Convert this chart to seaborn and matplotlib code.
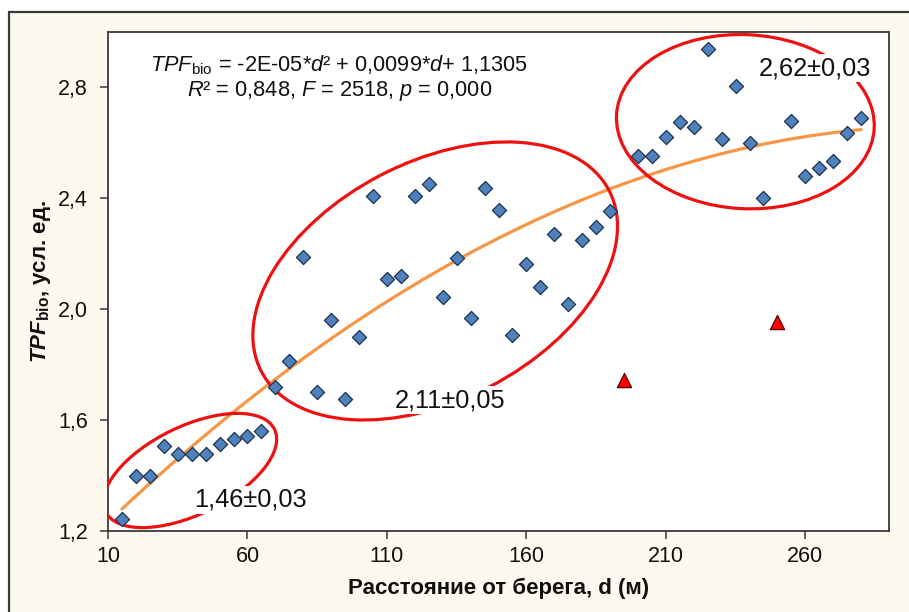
import numpy as np
import pandas as pd
import matplotlib
matplotlib.use("Agg")
import matplotlib.pyplot as plt
from matplotlib.patches import Ellipse, Rectangle
from matplotlib.transforms import ScaledTranslation
import seaborn as sns

# --- data -------------------------------------------------------------
# distance from the shore, m, and TPF_bio for the three shore zones
d_zone1 = [15, 20, 25, 30, 35, 40, 45, 50, 55, 60, 65]
tpf_zone1 = [1.242, 1.398, 1.398, 1.507, 1.479, 1.476, 1.476, 1.512, 1.532, 1.543, 1.561]

d_zone2 = [70, 75, 80, 85, 90, 95, 100, 105, 110, 115, 120, 125, 130,
           135, 140, 145, 150, 155, 160, 165, 170, 175, 180, 185, 190]
tpf_zone2 = [1.718, 1.813, 2.186, 1.701, 1.960, 1.677, 1.899, 2.407, 2.108,
             2.119, 2.407, 2.449, 2.042, 2.185, 1.966, 2.435, 2.357, 1.906,
             2.161, 2.078, 2.270, 2.019, 2.249, 2.297, 2.353]

d_zone3 = [200, 205, 210, 215, 220, 225, 230, 235, 240, 245,
           255, 260, 265, 270, 275, 280]
tpf_zone3 = [2.552, 2.552, 2.621, 2.675, 2.657, 2.936, 2.613, 2.805, 2.599,
             2.399, 2.679, 2.479, 2.507, 2.533, 2.633, 2.687]

# outliers excluded from the regression
d_outliers = [195, 250]
tpf_outliers = [1.743, 1.953]

zone_labels = ["1,46±0,03", "2,11±0,05", "2,62±0,03"]
x_ticks = [10, 60, 110, 160, 210, 260]
y_ticks = [1.2, 1.6, 2.0, 2.4, 2.8]

main = pd.DataFrame({
    "d": d_zone1 + d_zone2 + d_zone3,
    "tpf": tpf_zone1 + tpf_zone2 + tpf_zone3,
})
outl = pd.DataFrame({"d": d_outliers, "tpf": tpf_outliers})

# --- style ------------------------------------------------------------
sns.set_style("ticks")
plt.rcParams["font.family"] = ["Liberation Sans", "DejaVu Sans"]
plt.rcParams["mathtext.fontset"] = "custom"
plt.rcParams["mathtext.rm"] = "Liberation Sans"
plt.rcParams["mathtext.it"] = "Liberation Sans:italic"
plt.rcParams["mathtext.bf"] = "Liberation Sans:bold"
plt.rcParams["mathtext.bfit"] = "Liberation Sans:italic:bold"

CREAM = "#FEF9EE"
FRAME = "#3a3a3a"
BLUE = "#4F81BD"
NAVY = "#1F3350"
ORANGE = "#F79646"
RED = "#EE1111"
INK = "#111111"

fig = plt.figure(figsize=(9.09, 6.12), dpi=100)
fig.patch.set_facecolor("white")
fig.add_artist(Rectangle((9 / 909, -0.1), 1.2, 600 / 612 + 0.1,
                         transform=fig.transFigure, facecolor=CREAM,
                         edgecolor=FRAME, linewidth=1.6, zorder=-5))

ax = fig.add_axes([108 / 909, 81 / 612, 781 / 909, 499.5 / 612])
ax.set_facecolor("white")

# quadratic trend fitted through the zone points
sns.regplot(data=main, x="d", y="tpf", order=2, ci=None, scatter=False,
            line_kws=dict(color=ORANGE, lw=2.3, zorder=2), ax=ax)

sns.scatterplot(data=main, x="d", y="tpf", marker="D", s=52, color=BLUE,
                edgecolor=NAVY, linewidth=0.9, zorder=4, ax=ax, legend=False)
sns.scatterplot(data=outl, x="d", y="tpf", marker="^", s=105, color="#FF0000",
                edgecolor="#5a0000", linewidth=0.9, zorder=4, ax=ax, legend=False)

ax.set_xlim(10, 290)
ax.set_ylim(1.2, 3.0)
ax.set_xticks(x_ticks)
ax.set_xticklabels([str(v) for v in x_ticks])
ax.set_yticks(y_ticks)
ax.set_yticklabels([f"{v:.1f}".replace(".", ",") for v in y_ticks])
ax.tick_params(direction="out", length=6, width=1.1, color=FRAME,
               labelsize=15.5, labelcolor=INK)
ax.tick_params(axis="x", pad=5)
ax.tick_params(axis="y", pad=8.5)
for sp in ax.spines.values():
    sp.set_visible(True)
    sp.set_color(FRAME)
    sp.set_linewidth(1.3)

ax.set_xlabel("Расстояние от берега, d (м)", fontsize=16, fontweight="bold",
              color=INK)
ax.set_ylabel(r"$\mathbfit{TPF}_{\mathbf{bio}}$, усл. ед.", fontsize=16,
              fontweight="bold", color=INK)
ax.xaxis.set_label_coords(0.5, -0.093)
ax.yaxis.set_label_coords(-0.071, 0.5)

# zone outlines: centre in data units, axes in pixels, tilt in degrees
zones = [
    ((39.4, 1.418), 94, 44, 26),
    ((127.3, 2.101), 196, 119, 27.5),
    ((238.5, 2.675), 129, 87, -3),
]
for (cx, cy), a, b, ang in zones:
    tr = fig.dpi_scale_trans + ScaledTranslation(cx, cy, ax.transData)
    ax.add_patch(Ellipse((0, 0), 2 * a / 100, 2 * b / 100, angle=ang,
                         transform=tr, fill=False, edgecolor=RED, lw=2.3,
                         zorder=3))

label_pos = [(60.9, 1.312), (132.7, 1.672), (263.6, 2.867)]
for (lx, ly), txt in zip(label_pos, zone_labels):
    ax.text(lx, ly, txt, fontsize=18.3, ha="center", va="center", color=INK,
            zorder=5, bbox=dict(facecolor="white", edgecolor="none", pad=1.5))

# regression equation and statistics
ax.text(92.9, 2.878,
        r"$\it{TPF}_{\rm bio}$ = -2E-05*$\it{d}$² + 0,0099*$\it{d}$+ 1,1305",
        fontsize=15.7, ha="center", va="center", color=INK, zorder=5)
ax.text(92.9, 2.786,
        r"$\it{R}$² = 0,848, $\it{F}$ = 2518, $\it{p}$ = 0,000",
        fontsize=15.7, ha="center", va="center", color=INK, zorder=5)

fig.savefig("out.png", dpi=100, facecolor=fig.get_facecolor())
